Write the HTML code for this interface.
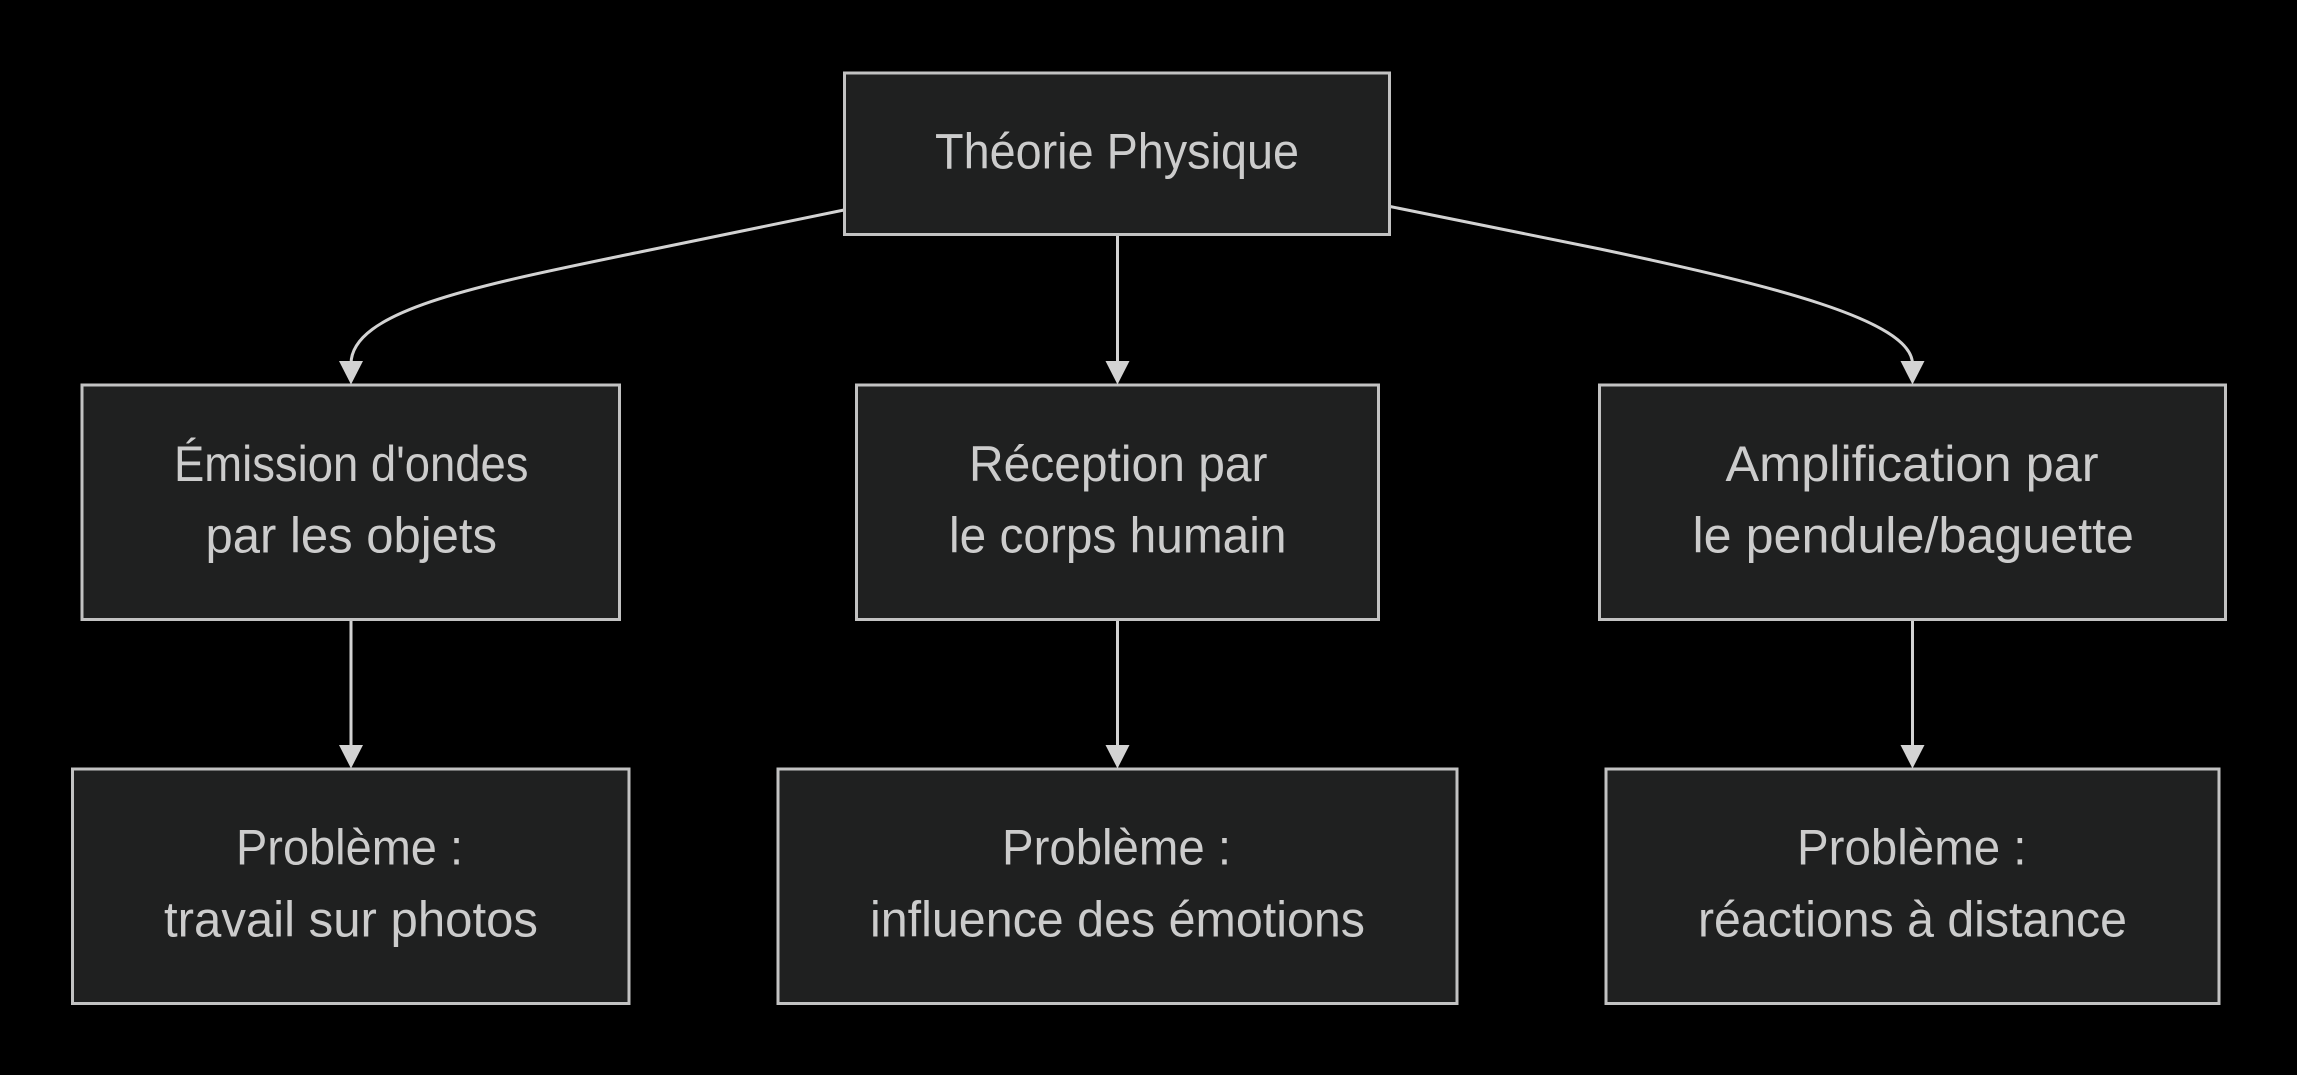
<!DOCTYPE html>
<html lang="fr">
<head>
<meta charset="utf-8">
<title>Théorie Physique</title>
<style>
html,body{margin:0;padding:0;background:#000;width:2297px;height:1075px;overflow:hidden}
svg{display:block}
text{font-family:"Liberation Sans",sans-serif;font-size:50px;fill:#cccccc}
rect{fill:#1f2020;stroke:#c2c2c2;stroke-width:3}
path.l{fill:none;stroke:#d3d3d3;stroke-width:3}
polygon{fill:#d3d3d3}
</style>
</head>
<body>
<svg width="2297" height="1075" viewBox="0 0 2297 1075" xmlns="http://www.w3.org/2000/svg">
<rect x="0" y="0" width="2297" height="1075" style="fill:#000;stroke:none"/>

<path class="l" d="M844 210 L640 252 C480 285 351 310 351 364"/>
<path class="l" d="M1390 206.5 L1600 249 C1770 285 1912.5 320 1912.5 364"/>
<path class="l" d="M1117.5 234 L1117.5 364"/>
<path class="l" d="M351 619 L351 747"/>
<path class="l" d="M1117.5 619 L1117.5 747"/>
<path class="l" d="M1912.5 619 L1912.5 747"/>

<rect x="844.5" y="73" width="545" height="161.5"/>
<rect x="82" y="385" width="537.5" height="234.5"/>
<rect x="856.5" y="385" width="522" height="234.5"/>
<rect x="1599.5" y="385" width="626" height="234.5"/>
<rect x="72.5" y="769" width="556.5" height="234.5"/>
<rect x="778" y="769" width="679" height="234.5"/>
<rect x="1606" y="769" width="613" height="234.5"/>

<polygon points="339,361 363,361 351,384.5"/>
<polygon points="1105.5,361 1129.5,361 1117.5,384.5"/>
<polygon points="1900.5,361 1924.5,361 1912.5,384.5"/>
<polygon points="339,745 363,745 351,768.5"/>
<polygon points="1105.5,745 1129.5,745 1117.5,768.5"/>
<polygon points="1900.5,745 1924.5,745 1912.5,768.5"/>

<text x="935" y="168.7" textLength="364" lengthAdjust="spacingAndGlyphs">Théorie Physique</text>

<text x="174" y="481" textLength="354.5" lengthAdjust="spacingAndGlyphs">Émission d'ondes</text>
<text x="205.5" y="552.7" textLength="291.5" lengthAdjust="spacingAndGlyphs">par les objets</text>

<text x="969" y="481" textLength="298.5" lengthAdjust="spacingAndGlyphs">Réception par</text>
<text x="949" y="552.7" textLength="337.5" lengthAdjust="spacingAndGlyphs">le corps humain</text>

<text x="1725.5" y="481" textLength="373" lengthAdjust="spacingAndGlyphs">Amplification par</text>
<text x="1692.5" y="552.7" textLength="441.5" lengthAdjust="spacingAndGlyphs">le pendule/baguette</text>

<text x="236" y="864.7" textLength="227" lengthAdjust="spacingAndGlyphs">Problème :</text>
<text x="164" y="936.7" textLength="374" lengthAdjust="spacingAndGlyphs">travail sur photos</text>

<text x="1002" y="864.7" textLength="229" lengthAdjust="spacingAndGlyphs">Problème :</text>
<text x="870" y="936.7" textLength="495" lengthAdjust="spacingAndGlyphs">influence des émotions</text>

<text x="1797" y="864.7" textLength="229.5" lengthAdjust="spacingAndGlyphs">Problème :</text>
<text x="1698" y="936.7" textLength="429" lengthAdjust="spacingAndGlyphs">réactions à distance</text>
</svg>
</body>
</html>
